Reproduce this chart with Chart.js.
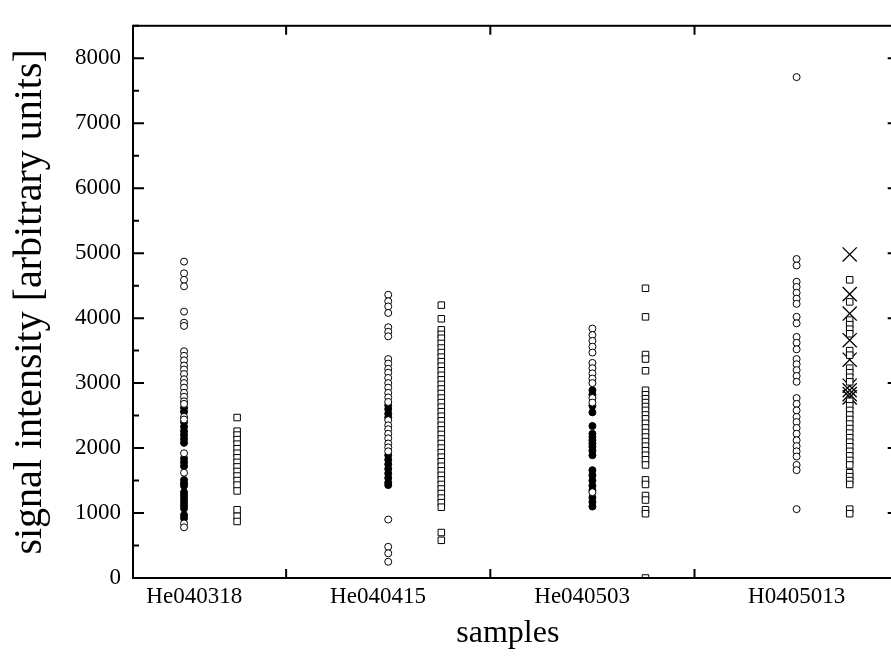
<!DOCTYPE html>
<html>
<head>
<meta charset="utf-8">
<script src="https://cdn.jsdelivr.net/npm/chart.js@4.4.1/dist/chart.umd.min.js"></script>
<style>
  html, body { margin: 0; padding: 0; background: #fff; overflow: hidden; }
  #wrap { width: 891px; height: 662px; overflow: hidden; }
  #chart { display: block; }
</style>
</head>
<body>
<div id="wrap"><canvas id="chart" width="910" height="662"></canvas></div>
<script>
// sample names on the x axis
const samples = ["He040318", "He040415", "He040503", "H0405013"];

// signal values, one list per sample and marker
const openCircles = [
  [4870, 4690, 4590, 4490, 4100, 3930, 3880, 3490, 3420, 3350, 3270, 3210, 3140, 3060, 3000, 2930, 2850, 2790, 2720, 2680, 2480, 2440, 1920, 1620, 840, 780],
  [4360, 4260, 4180, 4080, 3860, 3790, 3720, 3370, 3300, 3220, 3160, 3080, 3000, 2930, 2850, 2780, 2710, 2430, 2350, 2290, 2220, 2150, 2070, 2010, 1950, 900, 480, 380, 250],
  [3840, 3740, 3650, 3560, 3470, 3310, 3230, 3150, 3070, 3000, 2770, 2700, 1320],
  [7710, 4910, 4810, 4560, 4480, 4390, 4300, 4220, 4020, 3920, 3710, 3620, 3520, 3370, 3290, 3200, 3110, 3020, 2770, 2680, 2580, 2480, 2400, 2310, 2220, 2120, 2030, 1950, 1870, 1740, 1660, 1060]
];
const filledCircles = [
  [2620, 2560, 2400, 2330, 2260, 2200, 2140, 2080, 1840, 1780, 1720, 1510, 1460, 1420, 1320, 1270, 1220, 1170, 1120, 1070, 970, 920],
  [2660, 2600, 2530, 2470, 1890, 1820, 1750, 1680, 1610, 1540, 1470, 1430],
  [2890, 2820, 2650, 2550, 2340, 2220, 2170, 2120, 2070, 2020, 1960, 1890, 1660, 1580, 1500, 1420, 1350, 1240, 1170, 1100],
  []
];
const squares = [
  [2470, 2260, 2200, 2130, 2060, 1990, 1920, 1850, 1780, 1710, 1640, 1570, 1500, 1430, 1340, 1050, 950, 870],
  [4200, 3990, 3820, 3750, 3690, 3610, 3540, 3470, 3400, 3330, 3260, 3190, 3120, 3050, 2980, 2910, 2840, 2770, 2700, 2630, 2560, 2490, 2420, 2350, 2280, 2210, 2140, 2070, 2000, 1930, 1860, 1790, 1720, 1650, 1580, 1510, 1440, 1370, 1300, 1230, 1160, 1090, 700, 580],
  [4460, 4020, 3440, 3370, 3190, 2890, 2820, 2760, 2700, 2640, 2580, 2510, 2450, 2380, 2310, 2240, 2170, 2100, 2030, 1960, 1890, 1820, 1740, 1510, 1440, 1270, 1200, 1050, 990, 0],
  [4590, 4250, 3970, 3900, 3830, 3760, 3500, 3430, 3230, 3160, 3090, 3020, 2720, 2650, 2580, 2510, 2440, 2370, 2300, 2230, 2160, 2090, 2020, 1950, 1880, 1810, 1740, 1620, 1560, 1500, 1440, 1060, 990]
];
const crosses = [
  [], [], [],
  [4980, 4370, 4070, 3660, 3360, 2960, 2890, 2830, 2780]
];

// axis ticks
const yTicks = [0, 1000, 2000, 3000, 4000, 5000, 6000, 7000, 8000];
const labelPos = [1.05, 1.95, 2.95, 4.0];
const boundaryTicks = [1.5, 2.5, 3.5];

const serif = "'Liberation Serif', 'DejaVu Serif', serif";

// column position of each sample, squares a bit to the right
function points(lists, offset) {
  const out = [];
  lists.forEach((vals, i) => {
    vals.forEach(v => out.push({ x: i + 1 + offset, y: v }));
  });
  return out;
}

// inward ticks on all four sides plus the frame
const frameTicks = {
  id: "frameTicks",
  afterDraw(chart) {
    const { ctx, chartArea: a, scales } = chart;
    const x = scales.x, y = scales.y;
    ctx.save();
    ctx.strokeStyle = "#000";
    ctx.lineWidth = 2;
    ctx.strokeRect(a.left, a.top, a.right - a.left, a.bottom - a.top);
    ctx.beginPath();
    for (let v = 0; v <= 8500; v += 500) {
      const py = y.getPixelForValue(v);
      const len = v % 1000 === 0 ? 11 : 6;
      ctx.moveTo(a.left, py); ctx.lineTo(a.left + len, py);
      ctx.moveTo(a.right, py); ctx.lineTo(a.right - len, py);
    }
    boundaryTicks.forEach(v => {
      const px = x.getPixelForValue(v);
      ctx.moveTo(px, a.bottom); ctx.lineTo(px, a.bottom - 9);
      ctx.moveTo(px, a.top); ctx.lineTo(px, a.top + 9);
    });
    ctx.stroke();
    ctx.restore();
  }
};

new Chart(document.getElementById("chart"), {
  type: "scatter",
  data: {
    datasets: [
      {
        data: points(openCircles, 0),
        pointStyle: "circle", pointRadius: 3.5,
        backgroundColor: "#fff", borderColor: "#000", borderWidth: 1
      },
      {
        data: points(filledCircles, 0),
        pointStyle: "circle", pointRadius: 3.5,
        backgroundColor: "#000", borderColor: "#000", borderWidth: 1
      },
      {
        data: points(squares, 0.26),
        pointStyle: "rect", pointRadius: 4.6,
        backgroundColor: "#fff", borderColor: "#000", borderWidth: 1
      },
      {
        data: points(crosses, 0.26),
        pointStyle: "crossRot", pointRadius: 10,
        borderColor: "#000", borderWidth: 1.3
      }
    ]
  },
  options: {
    responsive: false,
    animation: false,
    layout: { padding: { top: 12, right: 2, bottom: 0, left: 0 } },
    plugins: { legend: { display: false }, tooltip: { enabled: false } },
    scales: {
      x: {
        type: "linear",
        min: 0.75,
        max: 4.5,
        afterBuildTicks: scale => { scale.ticks = labelPos.map(v => ({ value: v })); },
        afterFit: scale => { scale.height = 84; },
        ticks: {
          autoSkip: false,
          maxRotation: 0,
          padding: 5,
          color: "#000",
          font: { family: serif, size: 23 },
          callback: (val, i) => samples[i]
        },
        grid: { display: false, drawTicks: false },
        border: { display: false },
        title: {
          display: true,
          // trailing spaces pull the centred word a little to the left
          text: "samples\u00a0\u00a0",
          color: "#000",
          font: { family: serif, size: 32 },
          padding: { top: 0, bottom: 9 }
        }
      },
      y: {
        type: "linear",
        min: 0,
        max: 8500,
        afterBuildTicks: scale => { scale.ticks = yTicks.map(v => ({ value: v })); },
        afterFit: scale => { scale.width = 133; },
        ticks: {
          padding: 12,
          color: "#000",
          font: { family: serif, size: 23 },
          callback: val => String(val)
        },
        grid: { display: false, drawTicks: false },
        border: { display: false },
        title: {
          display: true,
          text: "signal intensity [arbitrary units]",
          color: "#000",
          font: { family: serif, size: 40 },
          padding: { top: 6, bottom: 0 }
        }
      }
    }
  },
  plugins: [frameTicks]
});
</script>
</body>
</html>
